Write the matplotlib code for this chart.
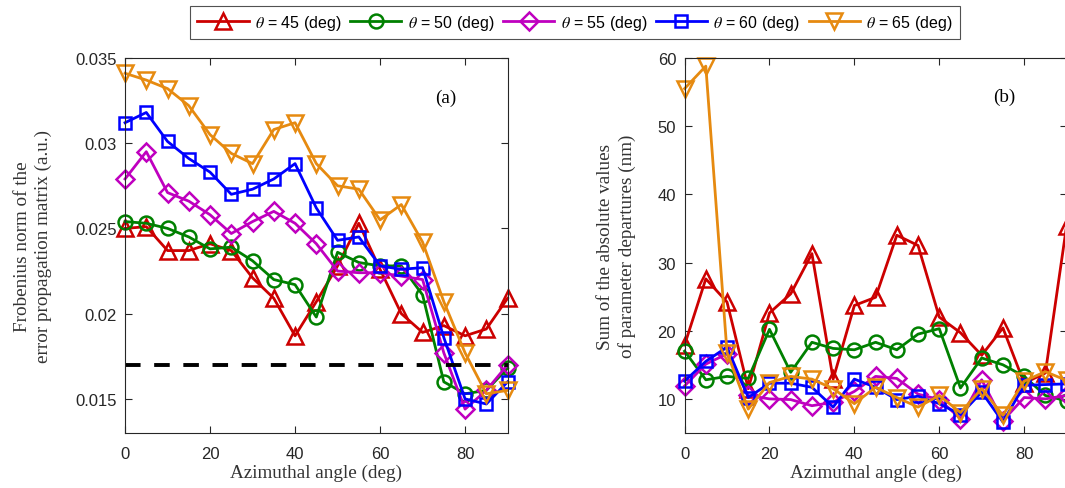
import matplotlib.pyplot as plt

plt.rcParams['font.family'] = ['Liberation Sans', 'DejaVu Sans']
plt.rcParams['mathtext.fontset'] = 'stix'

angle = [0, 5, 10, 15, 20, 25, 30, 35, 40, 45, 50, 55, 60, 65, 70, 75, 80, 85, 90]
thetas = [45, 50, 55, 60, 65]

# panel (a): Frobenius norm of the error propagation matrix
frob_45 = [0.0250, 0.0251, 0.0237, 0.0237, 0.0241, 0.0237, 0.0221, 0.0209, 0.0187, 0.0207,
           0.0228, 0.0253, 0.0226, 0.0200, 0.0189, 0.0193, 0.0187, 0.0191, 0.0209]
frob_50 = [0.0254, 0.0253, 0.0250, 0.0245, 0.0238, 0.0239, 0.0231, 0.0220, 0.0217, 0.0198,
           0.0236, 0.0230, 0.0228, 0.0228, 0.0211, 0.0160, 0.0153, 0.0155, 0.0168]
frob_55 = [0.0279, 0.0295, 0.0271, 0.0266, 0.0258, 0.0247, 0.0254, 0.0260, 0.0253, 0.0241,
           0.0225, 0.0224, 0.0224, 0.0222, 0.0220, 0.0177, 0.0144, 0.0155, 0.0170]
frob_60 = [0.0312, 0.0318, 0.0301, 0.0291, 0.0283, 0.0270, 0.0273, 0.0279, 0.0288, 0.0262,
           0.0243, 0.0245, 0.0228, 0.0226, 0.0227, 0.0186, 0.0150, 0.0147, 0.0160]
frob_65 = [0.0341, 0.0337, 0.0332, 0.0322, 0.0305, 0.0294, 0.0288, 0.0308, 0.0312, 0.0288,
           0.0275, 0.0273, 0.0255, 0.0264, 0.0242, 0.0207, 0.0177, 0.0153, 0.0155]
frob_ref = 0.0170

# panel (b): sum of the absolute values of parameter departures (nm)
dep_45 = [17.9, 27.6, 24.2, 11.5, 22.6, 25.4, 31.3, 12.9, 23.7, 24.9,
          34.0, 32.5, 22.0, 19.7, 16.4, 20.4, 12.3, 13.8, 35.4]
dep_50 = [17.0, 12.8, 13.3, 13.0, 20.2, 13.9, 18.3, 17.4, 17.2, 18.3,
          17.2, 19.5, 20.3, 11.6, 16.0, 15.0, 13.3, 10.5, 9.7]
dep_55 = [11.9, 15.1, 16.6, 10.5, 10.0, 9.9, 9.0, 9.5, 11.1, 13.3,
          13.0, 10.7, 9.9, 7.1, 12.8, 6.8, 10.2, 10.0, 10.5]
dep_60 = [12.6, 15.5, 17.6, 10.2, 12.3, 12.3, 11.7, 8.8, 12.9, 11.7,
          9.9, 10.4, 9.3, 7.7, 11.0, 6.6, 12.0, 12.1, 12.2]
dep_65 = [55.5, 58.8, 16.8, 8.5, 12.4, 13.3, 12.9, 11.5, 9.3, 11.7,
          10.2, 8.8, 10.5, 8.0, 11.5, 7.6, 12.6, 14.0, 12.7]

frob = [frob_45, frob_50, frob_55, frob_60, frob_65]
dep = [dep_45, dep_50, dep_55, dep_60, dep_65]
colors = ['#cc0000', '#008000', '#bf00bf', '#0000ff', '#e68a10']
markers = ['^', 'o', 'D', 's', 'v']
msizes = [12, 10, 9, 8.5, 12]

fig = plt.figure(figsize=(10.65, 4.89), dpi=100)
ax1 = fig.add_axes([0.1174, 0.1125, 0.3592, 0.767])
ax2 = fig.add_axes([0.6428, 0.1125, 0.3587, 0.767])

serif = {'family': 'Liberation Serif', 'size': 13.8, 'color': '#333333'}

for i in range(len(thetas)):
    kw = dict(color=colors[i], marker=markers[i], markersize=msizes[i], markerfacecolor='none',
              markeredgewidth=1.8, linewidth=2, clip_on=False,
              label=r'$\theta$ = %d (deg)' % thetas[i])
    ax1.plot(angle, frob[i], **kw)
    ax2.plot(angle, dep[i], **kw)

ax1.plot([0, 90], [frob_ref, frob_ref], 'k--', linewidth=2.8, dashes=(4, 3.5))

ax1.set_xlim(0, 90)
ax1.set_ylim(0.013, 0.035)
ax1.set_yticks([0.015, 0.02, 0.025, 0.03, 0.035])
ax1.set_yticklabels(['0.015', '0.02', '0.025', '0.03', '0.035'])
ax1.text(75.5, 0.0327, '(a)', fontdict=serif, ha='center', va='center', color='black')
ax1.set_ylabel('Frobenius norm of the\nerror propagation matrix (a.u.)', fontdict=serif, linespacing=1.3)
ax1.yaxis.set_label_coords(-0.19, 0.5)

ax2.set_xlim(0, 90)
ax2.set_ylim(5, 60)
ax2.set_yticks([10, 20, 30, 40, 50, 60])
ax2.text(75.2, 54.4, '(b)', fontdict=serif, ha='center', va='center', color='black')
ax2.set_ylabel('Sum of the absolute values\nof parameter departures (nm)', fontdict=serif, linespacing=1.3)
ax2.yaxis.set_label_coords(-0.127, 0.5)

for ax in (ax1, ax2):
    ax.set_xticks([0, 20, 40, 60, 80])
    ax.set_xlabel('Azimuthal angle (deg)', fontdict=serif, labelpad=2)
    ax.tick_params(direction='in', top=True, right=True, length=5, width=0.8,
                   labelsize=12, colors='#262626')
    ax.tick_params(axis='x', pad=9.5)
    ax.tick_params(axis='y', pad=6)
    for s in ax.spines.values():
        s.set_color('#262626')
        s.set_linewidth(0.8)

leg = fig.legend(*ax1.get_legend_handles_labels(), loc='center', bbox_to_anchor=(0.54, 0.952),
                 ncol=5, fontsize=11.5, frameon=True, fancybox=False, handlelength=3.2,
                 handletextpad=0.4, columnspacing=0.55, borderpad=0.45, borderaxespad=0)
leg.get_frame().set_edgecolor('#262626')
leg.get_frame().set_linewidth(0.8)

fig.savefig('out.png', dpi=100)
